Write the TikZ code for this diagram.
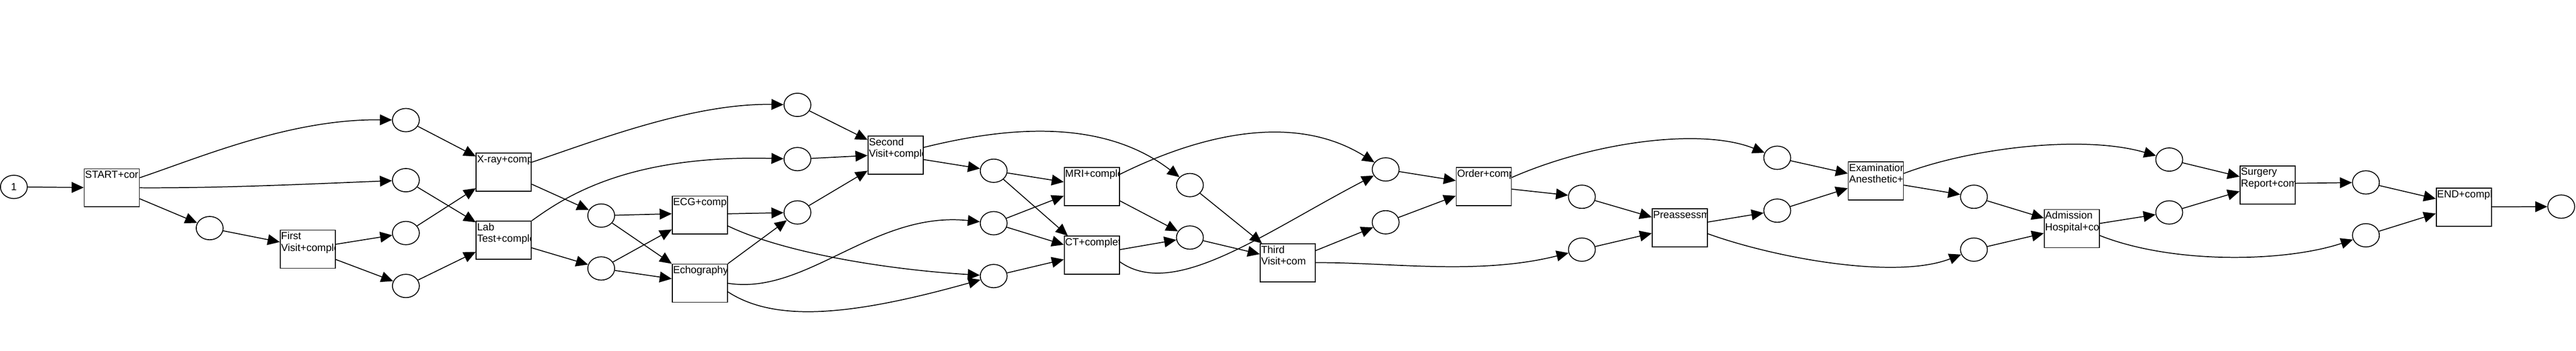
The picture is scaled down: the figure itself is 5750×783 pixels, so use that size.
\documentclass[tikz,border=0pt]{standalone}
\usepackage{fontspec}
\setmainfont{Liberation Sans}
\usetikzlibrary{arrows.meta,shapes.geometric}
\newcommand{\pnfont}{\fontsize{23pt}{25.7pt}\selectfont}

\begin{document}
\begin{tikzpicture}[x=1pt, y=-1pt,
                    every path/.style={line width=2pt},  % <-- global line thickness 2pt
                    place/.style={draw, ellipse, minimum width=60pt, minimum height=52pt,
                                  inner sep=0pt, font=\pnfont},
                    trans/.style={draw, rectangle, minimum width=123pt, minimum height=85pt,
                                  inner sep=0pt,
                                  path picture={\node[anchor=base west, inner sep=0pt,
                                    text width=200pt, align=left, font=\pnfont]
                                    at ([shift={(1pt,-21pt)}]path picture bounding box.north west) {#1};}},
                    link/.style={-{Triangle[length=27pt, width=24pt]}}]

  \useasboundingbox (0,0) rectangle (5750,783);

  % === Places ===
  \node[place] (p0) at (31,417) {1};
  \foreach \n/\x/\y in {1/468/509, 2/906/268, 3/906/402, 4/906/520, 5/906/638,
                        6/1342/481, 7/1342/599, 8/1780/234, 9/1780/355, 10/1780/474,
                        11/2218/381, 12/2218/498, 13/2218/616, 14/2656/413, 15/2656/530,
                        16/3093/378, 17/3093/496, 18/3531/439, 19/3531/557,
                        20/3967/352, 21/3967/470, 22/4406/439, 23/4406/557,
                        24/4842/356, 25/4842/474, 26/5281/407, 27/5281/525, 28/5717/461} {
    \node[place] (p\n) at (\x,\y) {};
  }

  % === Transitions ===
  \node[trans={START+cor}]                 (tStart)  at (249.5,419) {};
  \node[trans={First\\Visit+comple}]       (tFirst)  at (687,556) {};
  \node[trans={X-ray+compl}]               (tXray)   at (1124.5,384) {};
  \node[trans={Lab\\Test+comple}]          (tLab)    at (1124.5,536) {};
  \node[trans={ECG+compl}]                 (tECG)    at (1562,480) {};
  \node[trans={Echography+}]               (tEcho)   at (1562,632) {};
  \node[trans={Second\\Visit+comple}]      (tSecond) at (1999,346.5) {};
  \node[trans={MRI+comple}]                (tMRI)    at (2437,416.5) {};
  \node[trans={CT+complet}]                (tCT)     at (2437,569.5) {};
  \node[trans={Third\\Visit+com}]          (tThird)  at (2874.5,586.5) {};
  \node[trans={Order+comp}]                (tOrder)  at (3312,416.5) {};
  \node[trans={Preassessm}]                (tPre)    at (3749.5,508) {};
  \node[trans={Examination\\Anesthetic+c}] (tExam)   at (4187,403.5) {};
  \node[trans={Admission\\Hospital+co}]    (tAdm)    at (4624.5,510) {};
  \node[trans={Surgery\\Report+com}]       (tSurg)   at (5061.5,412.5) {};
  \node[trans={END+comple}]                (tEnd)    at (5499.5,462) {};

  % === Arcs: start to first visit ===
  \draw[link] (p0) -- (tStart);
  \draw[link] ([yshift=-21pt]tStart.north east) .. controls (450,350) and (650,265) .. (p2);
  \draw[link] (tStart.east) .. controls (500,420) and (700,410) .. (p3);
  \draw[link] ([yshift=-68pt]tStart.north east) -- (p1);
  \draw[link] (p1) -- ([yshift=-27.5pt]tFirst.north west);
  \draw[link] ([yshift=-32.5pt]tFirst.north east) -- (p4);
  \draw[link] ([yshift=-66.5pt]tFirst.north east) -- (p5);

  % === Arcs: X-ray, lab test, ECG, echography ===
  \draw[link] (p2) -- ([yshift=-8.5pt]tXray.north west);
  \draw[link] (p4) -- ([yshift=-79.5pt]tXray.north west);
  \draw[link] (p3) -- ([yshift=-3.5pt]tLab.north west);
  \draw[link] (p5) -- ([yshift=-69.5pt]tLab.north west);
  \draw[link] ([yshift=-21.5pt]tXray.north east) .. controls (1340,310) and (1550,230) .. (p8);
  \draw[link] ([yshift=-70.5pt]tXray.north east) -- (p6);
  \draw[link] (tLab.north east) .. controls (1260,440) and (1400,345) .. (p9);
  \draw[link] ([yshift=-60.5pt]tLab.north east) -- (p7);
  \draw[link] (p6) -- ([yshift=-40.5pt]tECG.north west);
  \draw[link] (p6) -- (tEcho.north west);
  \draw[link] (p7) -- ([yshift=-75.5pt]tECG.north west);
  \draw[link] (p7) -- ([yshift=-33.5pt]tEcho.north west);
  \draw[link] ([yshift=-40.5pt]tECG.north east) -- (p10);
  \draw[link] ([yshift=-67.5pt]tECG.north east) .. controls (1740,560) and (1960,600) .. (p13);
  \draw[link] (tEcho.north east) -- (p10);
  \draw[link] ([yshift=-43.5pt]tEcho.north east) .. controls (1800,660) and (1950,470) .. (p12);
  \draw[link] ([yshift=-62.5pt]tEcho.north east) .. controls (1730,720) and (1900,705) .. (p13);

  % === Arcs: second visit, MRI, CT ===
  \draw[link] (p8) -- ([yshift=-9pt]tSecond.north west);
  \draw[link] (p9) -- ([yshift=-44pt]tSecond.north west);
  \draw[link] (p10) -- ([yshift=-78pt]tSecond.north west);
  \draw[link] ([yshift=-26pt]tSecond.north east) .. controls (2220,290) and (2450,255) .. (p14);
  \draw[link] ([yshift=-53pt]tSecond.north east) -- (p11);
  \draw[link] (p11) -- ([yshift=-33pt]tMRI.north west);
  \draw[link] (p11) -- ([xshift=9pt]tCT.north west);
  \draw[link] (p12) -- ([yshift=-64pt]tMRI.north west);
  \draw[link] (p12) -- ([yshift=-20pt]tCT.north west);
  \draw[link] (p13) -- ([yshift=-53pt]tCT.north west);
  \draw[link] ([yshift=-16pt]tMRI.north east) .. controls (2700,290) and (2900,257) .. (p16);
  \draw[link] ([yshift=-75pt]tMRI.north east) -- (p15);
  \draw[link] ([yshift=-31pt]tCT.north east) -- (p15);
  \draw[link] ([yshift=-58pt]tCT.north east) .. controls (2620,670) and (2820,520) .. (p16);

  % === Arcs: third visit, order, preassessment ===
  \draw[link] (p14) -- ([xshift=5pt]tThird.north west);
  \draw[link] (p15) -- ([yshift=-24pt]tThird.north west);
  \draw[link] ([yshift=-16pt]tThird.north east) -- (p17);
  \draw[link] ([yshift=-43pt]tThird.north east) .. controls (3100,585) and (3300,615) .. (p19);
  \draw[link] (p16) -- ([yshift=-30pt]tOrder.north west);
  \draw[link] (p17) -- ([yshift=-64pt]tOrder.north west);
  \draw[link] ([yshift=-23pt]tOrder.north east) .. controls (3560,315) and (3800,285) .. (p20);
  \draw[link] ([yshift=-49pt]tOrder.north east) -- (p18);
  \draw[link] (p18) -- ([yshift=-20pt]tPre.north west);
  \draw[link] (p19) -- ([yshift=-56pt]tPre.north west);
  \draw[link] ([yshift=-31pt]tPre.north east) -- (p21);
  \draw[link] ([yshift=-57pt]tPre.north east) .. controls (3960,575) and (4230,625) .. (p23);

  % === Arcs: examination, admission, surgery, end ===
  \draw[link] (p20) -- ([yshift=-27pt]tExam.north west);
  \draw[link] (p21) -- ([yshift=-60pt]tExam.north west);
  \draw[link] ([yshift=-27pt]tExam.north east) .. controls (4400,330) and (4650,300) .. (p24);
  \draw[link] ([yshift=-53pt]tExam.north east) -- (p22);
  \draw[link] (p22) -- ([yshift=-20pt]tAdm.north west);
  \draw[link] (p23) -- ([yshift=-54pt]tAdm.north west);
  \draw[link] ([yshift=-32pt]tAdm.north east) -- (p25);
  \draw[link] ([yshift=-59pt]tAdm.north east) .. controls (4850,590) and (5100,585) .. (p27);
  \draw[link] (p24) -- ([yshift=-25pt]tSurg.north west);
  \draw[link] (p25) -- ([yshift=-58pt]tSurg.north west);
  \draw[link] ([yshift=-40pt]tSurg.north east) -- (p26);
  \draw[link] (p26) -- ([yshift=-25pt]tEnd.north west);
  \draw[link] (p27) -- ([yshift=-58pt]tEnd.north west);
  \draw[link] ([yshift=-43pt]tEnd.north east) -- (p28);

\end{tikzpicture}
\end{document}
